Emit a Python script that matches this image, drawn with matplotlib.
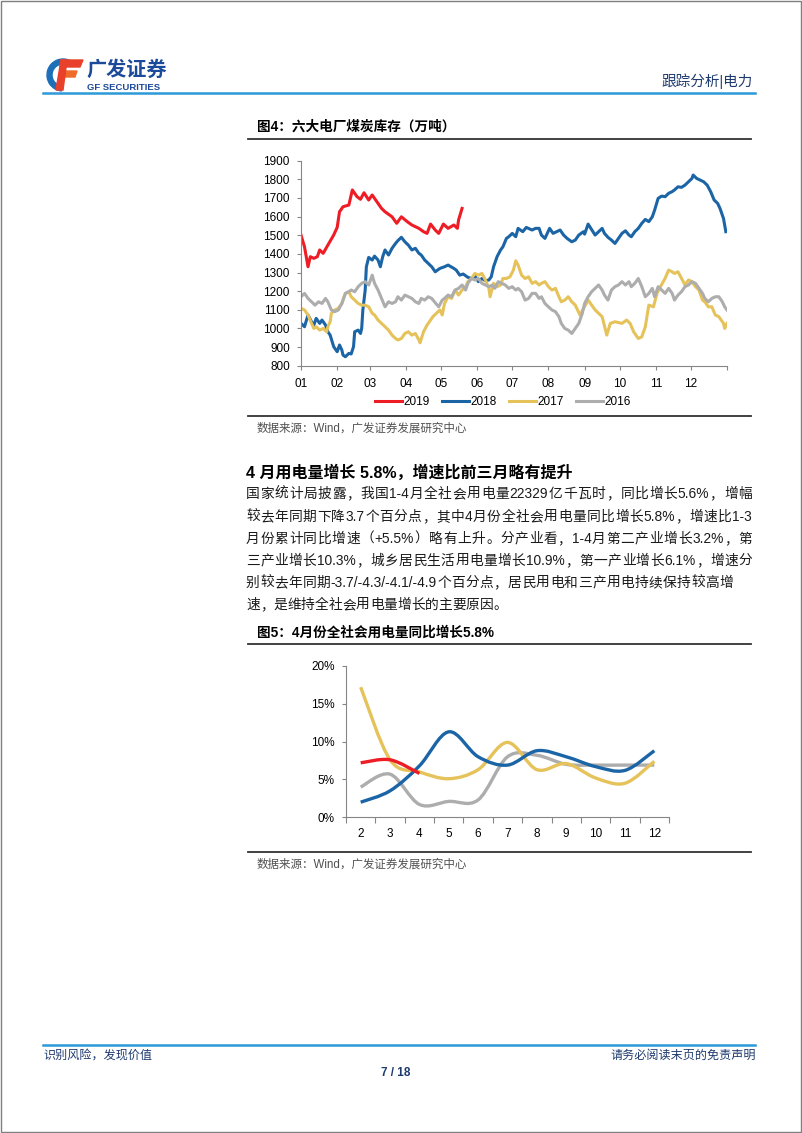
import re
import numpy as np
import matplotlib
matplotlib.use('Agg')
import matplotlib.pyplot as plt
from matplotlib.path import Path
from matplotlib.patches import PathPatch, Rectangle, Wedge, Polygon

plt.rcParams['font.family'] = ['Liberation Sans', 'Noto Sans CJK SC']

# ---------------- data: chart 1 (六大电厂煤炭库存, 万吨), x = day of year
d2019 = [0, 3, 6, 8, 11, 14, 16, 19, 23, 28, 31, 33, 36, 41, 44, 48, 51, 54, 58, 61,
         65, 69, 72, 78, 82, 86, 91, 95, 101, 105, 108, 111, 115, 118, 122, 126, 131, 134, 135, 138]
v2019 = [1501, 1438, 1331, 1385, 1376, 1385, 1421, 1403, 1447, 1501, 1542, 1626, 1653, 1662, 1743, 1707, 1693, 1728, 1689, 1716,
         1680, 1644, 1626, 1599, 1564, 1599, 1573, 1555, 1537, 1519, 1510, 1560, 1528, 1510, 1560, 1537, 1555, 1537, 1582, 1644]

d2018 = [0, 3, 6, 9, 11, 13, 16, 18, 21, 23, 25, 28, 31, 33, 35, 36, 38, 41, 43, 45,
         46, 49, 51, 52, 53, 55, 56, 58, 61, 63, 66, 68, 70, 72, 75, 78, 81, 83, 86, 89,
         92, 95, 98, 101, 103, 106, 109, 112, 115, 119, 123, 126, 131, 133, 136, 139, 143, 146, 149, 152,
         155, 158, 161, 163, 165, 168, 171, 173, 176, 178, 181, 184, 186, 190, 193, 198, 201, 204, 206, 209,
         213, 216, 219, 222, 225, 228, 232, 235, 238, 242, 243, 246, 249, 252, 255, 258, 260, 263, 266, 269,
         272, 275, 278, 281, 283, 286, 289, 292, 295, 298, 301, 303, 306, 309, 312, 315, 318, 320, 323, 326,
         329, 332, 335, 336, 339, 342, 345, 348, 351, 354, 357, 359, 362, 364]
v2018 = [1027, 1009, 1072, 1036, 1018, 1054, 1027, 1045, 1018, 982, 964, 902, 875, 911, 884, 857, 848, 866, 863, 902,
         982, 991, 973, 1000, 1099, 1206, 1331, 1381, 1367, 1388, 1367, 1331, 1385, 1421, 1394, 1430, 1456, 1471, 1489, 1465,
         1447, 1421, 1430, 1403, 1394, 1367, 1349, 1331, 1304, 1322, 1331, 1340, 1322, 1313, 1286, 1292, 1274, 1268, 1281, 1251,
         1268, 1256, 1260, 1277, 1331, 1385, 1421, 1438, 1483, 1492, 1510, 1492, 1537, 1519, 1542, 1528, 1537, 1537, 1501, 1483,
         1537, 1510, 1519, 1528, 1501, 1483, 1465, 1474, 1501, 1519, 1506, 1560, 1531, 1501, 1519, 1537, 1510, 1489, 1474, 1456,
         1483, 1510, 1524, 1501, 1492, 1519, 1537, 1564, 1585, 1573, 1599, 1635, 1698, 1710, 1707, 1725, 1734, 1743, 1760, 1757,
         1769, 1787, 1805, 1823, 1805, 1796, 1787, 1769, 1734, 1689, 1671, 1644, 1590, 1519]

d2017 = [0, 3, 6, 9, 11, 13, 16, 19, 22, 23, 25, 26, 29, 32, 35, 38, 41, 43, 46, 49,
         52, 55, 58, 61, 63, 66, 69, 72, 75, 78, 81, 83, 86, 89, 92, 95, 98, 101, 102, 105,
         108, 111, 113, 116, 119, 121, 123, 126, 129, 132, 135, 138, 141, 143, 146, 149, 152, 155, 158, 161,
         162, 165, 168, 171, 173, 176, 179, 182, 184, 186, 189, 192, 195, 198, 201, 204, 206, 209, 212, 215,
         218, 221, 223, 226, 229, 232, 235, 239, 246, 252, 258, 262, 265, 269, 275, 279, 282, 285, 289, 292,
         295, 298, 302, 305, 308, 312, 315, 318, 320, 323, 326, 329, 332, 335, 338, 341, 344, 346, 349, 352,
         355, 358, 362, 363, 365]
v2017 = [1108, 1099, 1072, 1027, 1000, 1009, 991, 1000, 982, 1009, 1036, 1081, 1099, 1108, 1134, 1188, 1197, 1170, 1152, 1134,
         1125, 1125, 1116, 1081, 1072, 1045, 1027, 1009, 991, 964, 946, 938, 946, 973, 982, 964, 973, 938, 923, 982,
         1018, 1045, 1063, 1081, 1099, 1072, 1134, 1170, 1161, 1206, 1179, 1206, 1224, 1251, 1268, 1295, 1286, 1295, 1260, 1215,
         1170, 1242, 1224, 1233, 1268, 1268, 1277, 1313, 1363, 1340, 1286, 1268, 1277, 1242, 1251, 1233, 1242, 1251, 1224, 1206,
         1215, 1170, 1143, 1152, 1170, 1143, 1125, 1072, 1152, 1099, 1063, 964, 1027, 1036, 1027, 1045, 1027, 982, 946, 955,
         1009, 1125, 1116, 1188, 1224, 1269, 1313, 1304, 1295, 1304, 1269, 1233, 1260, 1251, 1224, 1206, 1152, 1143, 1116, 1116,
         1072, 1063, 1027, 1000, 1027]

d2016 = [0, 3, 6, 9, 12, 15, 18, 21, 23, 26, 29, 32, 35, 38, 41, 43, 46, 49, 52, 55,
         58, 61, 63, 66, 69, 72, 75, 78, 81, 83, 86, 89, 92, 95, 98, 101, 103, 106, 109, 112,
         115, 118, 121, 123, 126, 129, 132, 135, 138, 141, 143, 146, 149, 152, 155, 158, 161, 164, 166, 169,
         172, 175, 178, 181, 184, 186, 189, 192, 195, 198, 201, 204, 206, 209, 212, 215, 218, 221, 223, 226,
         229, 232, 235, 238, 241, 243, 246, 249, 252, 255, 258, 260, 263, 266, 269, 272, 275, 278, 281, 283,
         286, 289, 292, 295, 298, 301, 303, 306, 309, 312, 315, 318, 320, 323, 326, 329, 332, 335, 338, 341,
         344, 346, 349, 352, 355, 358, 361, 363, 365]
v2016 = [1170, 1188, 1161, 1143, 1125, 1143, 1134, 1161, 1143, 1099, 1090, 1099, 1134, 1188, 1197, 1206, 1197, 1224, 1242, 1251,
         1233, 1286, 1242, 1206, 1161, 1116, 1143, 1134, 1143, 1170, 1152, 1179, 1170, 1161, 1143, 1134, 1161, 1152, 1170, 1161,
         1138, 1116, 1152, 1161, 1179, 1170, 1206, 1215, 1233, 1206, 1242, 1268, 1260, 1268, 1242, 1233, 1224, 1233, 1215, 1251,
         1242, 1233, 1215, 1224, 1206, 1215, 1197, 1152, 1161, 1188, 1188, 1161, 1170, 1134, 1116, 1099, 1090, 1063, 1027, 1000,
         991, 973, 1000, 1027, 1081, 1134, 1170, 1197, 1215, 1233, 1206, 1179, 1152, 1206, 1224, 1233, 1251, 1233, 1251, 1224,
         1242, 1268, 1224, 1170, 1188, 1215, 1170, 1224, 1206, 1188, 1215, 1188, 1152, 1179, 1197, 1224, 1233, 1251, 1242, 1215,
         1188, 1161, 1143, 1161, 1170, 1170, 1143, 1116, 1099]

month_start = [0, 31, 59, 90, 120, 151, 181, 212, 243, 273, 304, 334, 365]
month_lbl = ['01', '02', '03', '04', '05', '06', '07', '08', '09', '10', '11', '12', '']

# ---------------- data: chart 2 (全社会用电量同比, %)
months = [2, 3, 4, 5, 6, 7, 8, 9, 10, 11, 12]
g2019 = [7.2, 7.6, 5.8]
g2018 = [2.0, 3.5, 6.8, 11.3, 8.0, 6.9, 8.8, 8.0, 6.7, 6.2, 8.8]
g2017 = [17.2, 7.6, 6.0, 5.1, 6.3, 9.9, 6.3, 7.1, 5.2, 4.5, 7.4]
g2016 = [4.0, 5.7, 1.7, 2.1, 2.3, 8.0, 8.2, 7.0, 6.9, 6.9, 6.9]

c_red, c_blue, c_yel, c_gry = '#EE1C25', '#1B65A6', '#E6C25A', '#ADADAD'
axis_c = '#868686'
navy = '#1F3A6E'

W, H = 802, 1133
fig = plt.figure(figsize=(W / 100, H / 100), dpi=100)
page = fig.add_axes([0, 0, 1, 1])
page.set_xlim(0, W)
page.set_ylim(H, 0)
page.axis('off')


def px_axes(l, t, r, b):
    return fig.add_axes([l / W, 1 - b / H, (r - l) / W, (b - t) / H])


# page frame, header, footer
page.add_patch(Rectangle((0.5, 0.5), W - 2, H - 2, fill=False, ec='#7f7f7f', lw=1))
page.plot([43, 755], [92.5, 92.5], color='#2C9AD6', lw=1.8)
page.plot([43, 755], [1045, 1045], color='#2C9AD6', lw=1.8)
page.add_patch(Wedge((63, 75), 16, 95, 300, width=5, color='#1D6FB8'))
page.add_patch(Polygon([(61, 60), (83, 60), (80, 67), (60, 67)], color='#E8402A'))
page.add_patch(Polygon([(60, 71), (77, 71), (75, 77), (59, 77)], color='#EF6B2A'))
page.add_patch(Polygon([(61, 60), (67, 60), (63, 90), (56, 90)], color='#E8402A'))
page.text(86, 70, '广发证券', fontsize=14.5, fontweight='bold', color='#1C4A9A', va='center')
page.text(87, 87, 'GF SECURITIES', fontsize=6.8, fontweight='bold', color='#1C4A9A', va='center')
page.text(753, 81, '跟踪分析|电力', fontsize=10.5, color=navy, ha='right', va='center')
page.text(43, 1056, '识别风险，发现价值', fontsize=8.7, color=navy, va='center')
page.text(756, 1056, '请务必阅读末页的免责声明', fontsize=8.7, color=navy, ha='right', va='center')
page.text(396, 1073, '7 / 18', fontsize=8.5, fontweight='bold', color=navy, ha='center', va='center')

# titles and rules
page.text(257, 127, '图4：六大电厂煤炭库存（万吨）', fontsize=9.8, fontweight='bold', va='center')
page.plot([248, 751], [138.5, 138.5], color='#333333', lw=1.3)
page.plot([248, 751], [415.5, 415.5], color='#333333', lw=1.3)
page.text(257, 429, '数据来源：Wind，广发证券发展研究中心', fontsize=8.3, color='#505050', va='center')

page.text(246, 473, '4 月用电量增长 5.8%，增速比前三月略有提升', fontsize=11.5, fontweight='bold', va='center')

para = ['国家统计局披露，我国1-4月全社会用电量22329亿千瓦时，同比增长5.6%，增幅',
        '较去年同期下降3.7个百分点，其中4月份全社会用电量同比增长5.8%，增速比1-3',
        '月份累计同比增速（+5.5%）略有上升。分产业看，1-4月第二产业增长3.2%，第',
        '三产业增长10.3%，城乡居民生活用电量增长10.9%，第一产业增长6.1%，增速分',
        '别较去年同期-3.7/-4.3/-4.1/-4.9个百分点，居民用电和三产用电持续保持较高增',
        '速，是维持全社会用电量增长的主要原因。']
line_y = [494, 517, 539, 561, 583, 605]
line_end = [752, 752, 752, 752, 733, None]

# justify each paragraph line between x=246 and its right edge
renderer = fig.canvas.get_renderer()
for s, y, x1 in zip(para, line_y, line_end):
    toks = re.findall(r'[ -~]+|.', s)
    arts = [page.text(0, y, t, fontsize=9.9, va='center', color='#1a1a1a') for t in toks]
    ws = [a.get_window_extent(renderer).width for a in arts]
    gap = 0 if x1 is None else (x1 - 246 - sum(ws)) / (len(toks) - 1)
    x = 246
    for a, w in zip(arts, ws):
        a.set_x(x)
        x += w + gap

page.text(257, 633, '图5：4月份全社会用电量同比增长5.8%', fontsize=9.8, fontweight='bold', va='center')
page.plot([248, 751], [644, 644], color='#333333', lw=1.3)
page.plot([248, 751], [852, 852], color='#333333', lw=1.3)
page.text(257, 865, '数据来源：Wind，广发证券发展研究中心', fontsize=8.3, color='#505050', va='center')

# ---------------- chart 1
ax1 = px_axes(301, 160.7, 727, 365.7)
for d, v, c, lab in [(d2019, v2019, c_red, '2019'), (d2018, v2018, c_blue, '2018'),
                     (d2017, v2017, c_yel, '2017'), (d2016, v2016, c_gry, '2016')]:
    ax1.plot(d, v, color=c, lw=2.2, label=lab, solid_joinstyle='round')
ax1.set_xlim(0, 365)
ax1.set_ylim(800, 1900)
ax1.set_yticks(range(800, 2000, 100))
ax1.set_xticks(month_start)
ax1.set_xticklabels(month_lbl)
for s in ['top', 'right']:
    ax1.spines[s].set_visible(False)
for s in ['left', 'bottom']:
    ax1.spines[s].set_color(axis_c)
ax1.tick_params(axis='both', length=3, width=0.8, color=axis_c, labelsize=8.5)
ax1.tick_params(axis='x', pad=6)
ax1.tick_params(axis='y', pad=5)
ax1.patch.set_alpha(0)
fig.legend(*ax1.get_legend_handles_labels(), loc='center', ncol=4, frameon=False, fontsize=8.5,
           bbox_to_anchor=(503 / W, 1 - 401.7 / H), handlelength=2.3, handletextpad=0.15,
           columnspacing=1.0)


# ---------------- chart 2 (smoothed lines)
def smooth_path(xs, ys):
    pts = np.column_stack([xs, ys]).astype(float)
    n = len(pts)
    verts, codes = [pts[0]], [Path.MOVETO]
    for i in range(n - 1):
        p0 = pts[i - 1] if i > 0 else pts[i]
        p1, p2 = pts[i], pts[i + 1]
        p3 = pts[i + 2] if i + 2 < n else pts[i + 1]
        verts += [p1 + (p2 - p0) / 6, p2 - (p3 - p1) / 6, p2]
        codes += [Path.CURVE4] * 3
    return Path(verts, codes)


ax2 = px_axes(346, 666, 669, 817.3)
for g, c in [(g2016, c_gry), (g2017, c_yel), (g2018, c_blue), (g2019, c_red)]:
    ax2.add_patch(PathPatch(smooth_path(months[:len(g)], g), fill=False, ec=c, lw=2.4, capstyle='butt'))
ax2.set_xlim(1.5, 12.5)
ax2.set_ylim(0, 20)
ax2.set_yticks([0, 5, 10, 15, 20])
ax2.set_yticklabels(['0%', '5%', '10%', '15%', '20%'])
ax2.set_xticks(months)
ax2.set_xticks(np.arange(1.5, 13, 1), minor=True)
for s in ['top', 'right']:
    ax2.spines[s].set_visible(False)
for s in ['left', 'bottom']:
    ax2.spines[s].set_color(axis_c)
ax2.tick_params(axis='x', which='major', length=0, labelsize=8.5, pad=8)
ax2.tick_params(axis='x', which='minor', length=4, width=0.8, color=axis_c)
ax2.tick_params(axis='y', length=3, width=0.8, color=axis_c, labelsize=8.5, pad=5)
ax2.patch.set_alpha(0)

fig.savefig('out.png', dpi=100)
